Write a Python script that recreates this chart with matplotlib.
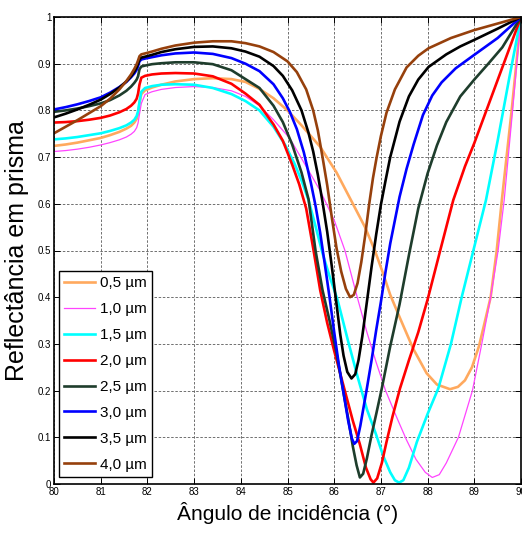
import matplotlib
matplotlib.use("Agg")
import matplotlib.pyplot as plt

plt.rcParams["font.family"] = ["Liberation Sans", "DejaVu Sans"]

# shared angles for the left plateau (up to and around the critical angle)
x_left = [80, 80.25, 80.5, 80.75, 81, 81.2, 81.4, 81.55, 81.65, 81.72, 81.77,
          81.8, 81.83, 81.87, 81.95, 82.1, 82.3, 82.6, 83, 83.4, 83.8, 84.1]

labels = ["0,5 µm", "1,0 µm", "1,5 µm", "2,0 µm",
          "2,5 µm", "3,0 µm", "3,5 µm", "4,0 µm"]
colors = ["#ffa95e", "#ff44ff", "#00ffff", "#ff0000",
          "#1e3d2c", "#0000ff", "#000000", "#96400c"]
widths = [1.9, 0.9, 1.9, 1.9, 1.9, 1.9, 1.9, 1.9]

# 0,5 um
r05_left = [0.724, 0.727, 0.731, 0.736, 0.741, 0.747, 0.754, 0.761, 0.767, 0.774,
            0.782, 0.793, 0.815, 0.835, 0.843, 0.849, 0.855, 0.862, 0.867, 0.869,
            0.867, 0.861]
x05 = [84.4, 84.7, 85.0, 85.3, 85.7, 86.05, 86.4, 86.66, 86.87, 87.05, 87.2, 87.41,
       87.69, 87.98, 88.2, 88.48, 88.65, 88.8, 88.95, 89.1, 89.22, 89.35, 89.48,
       89.59, 89.8, 90]
r05 = [0.846, 0.826, 0.800, 0.768, 0.722, 0.667, 0.600, 0.550, 0.500, 0.450, 0.405,
       0.355, 0.290, 0.237, 0.213, 0.203, 0.208, 0.222, 0.250, 0.295, 0.345, 0.400,
       0.500, 0.608, 0.800, 1.0]

# 1,0 um
r10_left = [0.712, 0.714, 0.717, 0.721, 0.726, 0.731, 0.737, 0.743, 0.749, 0.755,
            0.763, 0.773, 0.792, 0.815, 0.834, 0.840, 0.845, 0.849, 0.851, 0.849,
            0.842, 0.830]
x10 = [84.4, 84.7, 85.05, 85.4, 85.7, 86.0, 86.23, 86.48, 86.7, 86.9, 87.1, 87.35,
       87.55, 87.75, 87.95, 88.1, 88.25, 88.4, 88.66, 88.96, 89.16, 89.35, 89.51,
       89.64, 89.82, 90]
r10 = [0.810, 0.780, 0.740, 0.680, 0.628, 0.565, 0.500, 0.405, 0.325, 0.260, 0.200,
       0.140, 0.094, 0.053, 0.025, 0.014, 0.020, 0.045, 0.100, 0.200, 0.300, 0.400,
       0.500, 0.608, 0.800, 1.0]

# 1,5 um
r15_left = [0.738, 0.740, 0.743, 0.747, 0.751, 0.756, 0.762, 0.768, 0.774, 0.780,
            0.788, 0.798, 0.818, 0.840, 0.848, 0.852, 0.855, 0.856, 0.855, 0.848,
            0.835, 0.820]
x15 = [84.4, 84.7, 84.95, 85.15, 85.3, 85.45, 85.6, 85.75, 85.9, 86.07, 86.3, 86.5,
       86.7, 86.9, 87.05, 87.2, 87.3, 87.39, 87.48, 87.6, 87.77, 88.0, 88.23, 88.5,
       88.73, 88.98, 89.25, 89.5, 89.75, 90]
r15 = [0.800, 0.765, 0.726, 0.686, 0.650, 0.608, 0.552, 0.494, 0.445, 0.395, 0.305,
       0.230, 0.160, 0.105, 0.060, 0.025, 0.008, 0.003, 0.008, 0.035, 0.090, 0.150,
       0.205, 0.300, 0.400, 0.500, 0.608, 0.735, 0.870, 1.0]

# 2,0 um
r20_left = [0.774, 0.775, 0.777, 0.780, 0.784, 0.789, 0.796, 0.803, 0.810, 0.817,
            0.825, 0.836, 0.855, 0.870, 0.874, 0.877, 0.879, 0.880, 0.879, 0.873,
            0.857, 0.836]
x20 = [84.4, 84.7, 84.9, 85.1, 85.25, 85.4, 85.55, 85.7, 85.85, 86.0, 86.2, 86.4,
       86.55, 86.68, 86.78, 86.84, 86.92, 87.02, 87.12, 87.25, 87.41, 87.6, 87.8,
       88.0, 88.27, 88.55, 88.8, 89.0, 89.5, 90]
r20 = [0.812, 0.770, 0.735, 0.684, 0.642, 0.590, 0.505, 0.415, 0.345, 0.285, 0.210,
       0.135, 0.085, 0.035, 0.010, 0.003, 0.012, 0.045, 0.090, 0.145, 0.205, 0.265,
       0.325, 0.395, 0.500, 0.608, 0.680, 0.730, 0.865, 1.0]

# 2,5 um
r25_left = [0.797, 0.800, 0.804, 0.809, 0.815, 0.822, 0.832, 0.842, 0.851, 0.859,
            0.866, 0.873, 0.888, 0.894, 0.896, 0.899, 0.901, 0.903, 0.903, 0.899,
            0.886, 0.867]
x25 = [84.4, 84.7, 84.9, 85.1, 85.3, 85.45, 85.6, 85.75, 85.9, 86.05, 86.2, 86.3,
       86.4, 86.48, 86.55, 86.62, 86.7, 86.8, 86.9, 87.02, 87.2, 87.4, 87.6, 87.8,
       88.0, 88.2, 88.4, 88.7, 89.0, 89.3, 89.6, 90]
r25 = [0.848, 0.810, 0.775, 0.727, 0.667, 0.610, 0.500, 0.415, 0.350, 0.280, 0.195,
       0.140, 0.080, 0.040, 0.014, 0.022, 0.055, 0.105, 0.150, 0.205, 0.295, 0.385,
       0.490, 0.590, 0.665, 0.725, 0.775, 0.830, 0.866, 0.900, 0.935, 1.0]

# 3,0 um
r30_left = [0.802, 0.807, 0.813, 0.820, 0.828, 0.838, 0.850, 0.861, 0.871, 0.879,
            0.887, 0.895, 0.905, 0.909, 0.911, 0.914, 0.918, 0.922, 0.924, 0.921,
            0.912, 0.900]
x30 = [84.4, 84.7, 84.9, 85.05, 85.2, 85.35, 85.5, 85.6, 85.7, 85.8, 85.9, 86.0,
       86.1, 86.2, 86.3, 86.38, 86.43, 86.49, 86.56, 86.63, 86.7, 86.8, 86.9, 87.0,
       87.1, 87.2, 87.3, 87.4, 87.55, 87.7, 87.9, 88.1, 88.3, 88.6, 89.0, 89.5, 90]
r30 = [0.884, 0.856, 0.826, 0.797, 0.760, 0.710, 0.645, 0.596, 0.538, 0.470, 0.400,
       0.325, 0.255, 0.195, 0.135, 0.097, 0.086, 0.092, 0.125, 0.165, 0.205, 0.265,
       0.330, 0.390, 0.455, 0.515, 0.565, 0.615, 0.675, 0.727, 0.790, 0.832, 0.860,
       0.890, 0.919, 0.955, 1.0]

# 3,5 um
r35_left = [0.785, 0.793, 0.802, 0.812, 0.823, 0.835, 0.849, 0.862, 0.873, 0.883,
            0.892, 0.900, 0.909, 0.913, 0.915, 0.919, 0.925, 0.931, 0.936, 0.937,
            0.933, 0.926]
x35 = [84.4, 84.7, 84.9, 85.1, 85.3, 85.45, 85.55, 85.65, 85.75, 85.85, 85.95,
       86.05, 86.13, 86.2, 86.28, 86.37, 86.45, 86.52, 86.6, 86.7, 86.8, 86.9, 87.0,
       87.1, 87.2, 87.4, 87.6, 87.8, 88.02, 88.4, 88.7, 89.0, 89.5, 90]
r35 = [0.915, 0.895, 0.874, 0.843, 0.800, 0.752, 0.712, 0.662, 0.604, 0.540, 0.465,
       0.385, 0.320, 0.275, 0.240, 0.226, 0.235, 0.265, 0.315, 0.390, 0.465, 0.535,
       0.598, 0.650, 0.700, 0.776, 0.830, 0.866, 0.893, 0.920, 0.937, 0.951, 0.975,
       1.0]

# 4,0 um
r40_left = [0.751, 0.765, 0.779, 0.794, 0.809, 0.825, 0.845, 0.863, 0.877, 0.889,
            0.899, 0.907, 0.916, 0.920, 0.922, 0.926, 0.932, 0.939, 0.945, 0.948,
            0.948, 0.944]
x40 = [84.4, 84.7, 85.0, 85.2, 85.4, 85.55, 85.65, 85.75, 85.85, 85.95, 86.05,
       86.15, 86.25, 86.34, 86.42, 86.5, 86.58, 86.66, 86.75, 86.83, 86.91, 87.0,
       87.12, 87.3, 87.55, 87.8, 88.02, 88.5, 89.0, 89.5, 90]
r40 = [0.937, 0.925, 0.905, 0.882, 0.845, 0.800, 0.757, 0.700, 0.640, 0.570, 0.505,
       0.455, 0.418, 0.400, 0.405, 0.430, 0.475, 0.530, 0.600, 0.655, 0.700, 0.745,
       0.795, 0.845, 0.892, 0.917, 0.933, 0.955, 0.972, 0.986, 1.0]

curves = [
    (r05_left, x05, r05), (r10_left, x10, r10), (r15_left, x15, r15),
    (r20_left, x20, r20), (r25_left, x25, r25), (r30_left, x30, r30),
    (r35_left, x35, r35), (r40_left, x40, r40),
]

fig = plt.figure(figsize=(5.22, 5.34), dpi=100)
ax = fig.add_axes([54 / 522, 50 / 534, 467 / 522, 467 / 534])

for (rl, xr, rr), lab, col, lw in zip(curves, labels, colors, widths):
    ax.plot(x_left + xr, rl + rr, color=col, lw=lw, label=lab,
            solid_joinstyle="round")

ax.set_xlim(80, 90)
ax.set_ylim(0, 1)
ax.set_xticks(range(80, 91))
ax.set_yticks([i / 10 for i in range(11)])
ax.set_yticklabels(["0"] + ["0.%d" % i for i in range(1, 10)] + ["1"])
ax.tick_params(direction="in", top=True, right=True, length=4, width=0.7,
               labelsize=7, pad=2)
ax.grid(True, color="0.35", linestyle=(0, (3, 2)), linewidth=0.6)
for s in ax.spines.values():
    s.set_linewidth(1.2)

ax.set_xlabel("Ângulo de incidência (°)", fontsize=15, labelpad=4)
ax.set_ylabel("Reflectância em prisma", fontsize=18, labelpad=6)

leg = ax.legend(loc="lower left", bbox_to_anchor=(0.011, 0.015),
                borderaxespad=0, fontsize=11, fancybox=False,
                edgecolor="black", framealpha=1, handlelength=2.0,
                handletextpad=0.3, labelspacing=0.78, borderpad=0.35)
leg.get_frame().set_linewidth(1.0)

fig.savefig("out.png", dpi=100)
